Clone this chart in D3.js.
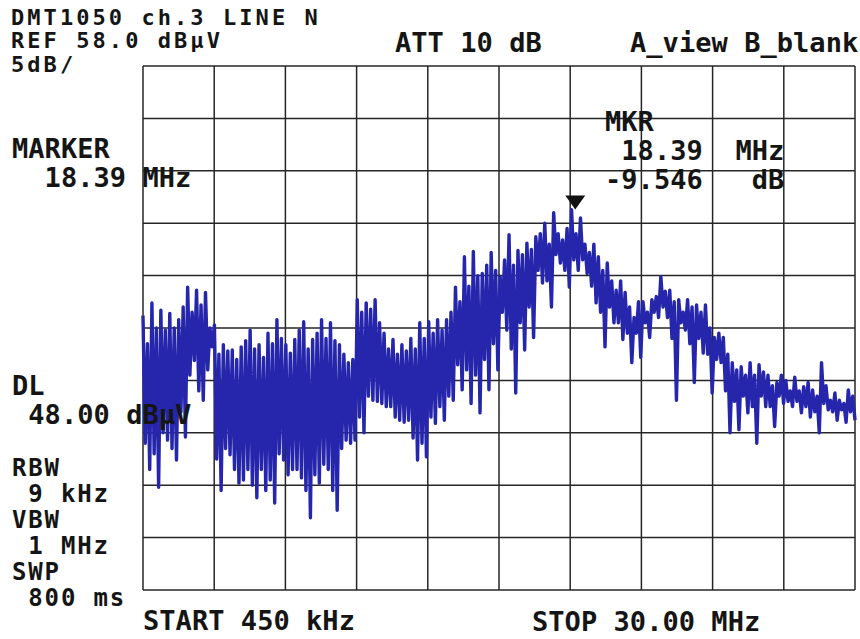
<!DOCTYPE html>
<html>
<head>
<meta charset="utf-8">
<script src="https://cdn.jsdelivr.net/npm/d3@7/dist/d3.min.js"></script>
<style>
html,body{margin:0;padding:0;background:#fff;}
svg{display:block;}
text{font-family:"DejaVu Sans Mono",monospace;font-weight:bold;fill:#151515;white-space:pre;}
</style>
</head>
<body>
<svg id="chart" width="860" height="639"></svg>
<script>
// ---- instrument settings ----
const startMHz = 0.45;
const stopMHz = 30.0;
const refLevel = 58.0;     // dBµV, top of screen
const dbPerDiv = 5;
const divisionsX = 10;
const divisionsY = 10;
const markerFreq = 18.39;  // MHz
const markerLevel = 44.3;  // dBµV (trace level at marker)

// ---- trace: per-bin levels (dBµV), read/ ----
// each bin holds: main peak, secondary dip, secondary peak, main dip
const peakLevels = [
  34.2,35.4,34.7,34.4,33.8,36.9,36.6,36.4,33.3,31.4,
  30.9,31.2,32.8,31.4,32.5,33.8,31.4,31.9,33.6,31.9,
  33.8,33.5,31.4,29.7,35.7,35.4,35.7,32.5,31.9,31.4,
  32.0,33.5,33.6,33.8,33.8,36.9,39.8,40.3,38.2,40.2,
  37.9,41.9,40.4,41.1,41.7,43.0,44.0,41.4,44.3,43.5,
  40.2,39.8,39.2,36.6,36.4,34.0,35.5,35.7,37.9,36.6,
  35.7,35.7,35.2,35.2,32.1,32.1,29.7,29.3,29.7,29.5,
  28.5,27.8,28.0,28.3,27.4,27.1,29.7,26.1,26.1,27.1
];
const dip2Levels = [
  22.0,21.0,23.0,21.5,25.0,28.5,27.0,29.0,20.5,21.5,
  19.5,18.5,18.0,19.5,18.5,21.0,19.0,19.5,17.5,19.0,
  20.0,17.5,21.5,22.0,24.5,26.5,26.0,25.5,24.5,24.0,
  22.5,22.0,24.5,25.5,26.5,29.5,29.0,28.5,30.0,31.5,
  34.5,31.0,33.5,35.0,38.5,37.5,40.0,38.5,39.5,39.5,
  37.0,34.5,35.0,33.5,32.5,32.5,33.5,34.5,35.0,32.0,
  33.5,31.5,32.0,30.5,30.0,27.0,26.0,26.5,25.5,26.5,
  25.5,26.5,26.0,26.0,25.5,25.0,25.8,25.0,25.2,25.0
];
const peak2Levels = [
  31.5,33.0,32.8,33.0,35.0,34.5,35.2,33.0,30.5,30.8,
  30.0,31.8,31.0,30.2,31.5,32.0,30.6,32.8,31.0,32.5,
  32.0,31.8,30.5,30.0,34.5,34.8,33.5,31.0,30.5,30.8,
  31.0,32.0,32.5,32.8,34.5,35.5,37.0,38.0,39.0,38.5,
  39.5,39.0,40.0,40.5,42.0,41.0,42.0,42.5,42.0,41.0,
  41.0,38.5,37.5,37.5,35.0,35.5,34.5,36.0,36.5,35.5,
  34.5,35.0,34.5,33.0,32.5,30.5,29.0,28.5,28.5,28.8,
  27.5,28.5,27.0,27.0,27.8,26.5,27.5,26.8,25.8,26.5
];
const dipLevels = [
  19.5,17.8,22.3,20.4,22.6,29.9,26.1,31.2,17.5,20.9,
  18.2,19.5,16.8,17.5,16.3,20.4,19.5,18.7,14.9,18.2,
  19.5,15.6,22.3,22.3,23.0,26.1,25.8,25.5,24.2,24.2,
  20.4,20.7,23.9,24.2,26.1,27.1,25.8,24.9,27.1,29.0,
  32.8,26.8,30.9,32.1,37.3,35.0,39.2,36.9,38.5,38.2,
  35.4,31.2,33.5,31.9,29.7,30.2,32.1,34.0,34.0,26.1,
  32.8,27.8,30.6,26.8,29.7,23.0,23.3,24.9,22.0,25.5,
  23.6,25.8,25.5,24.9,24.5,23.0,25.2,24.2,24.0,24.2
];

// ---- annotation text ----
const headerLines = ["DMT1050 ch.3 LINE N", "REF 58.0 dBµV", "5dB/"];
const attText = "ATT 10 dB";
const viewText = "A_view B_blank";
const markerLabel = ["MARKER", "  18.39 MHz"];
const mkrReadout = ["MKR", " 18.39  MHz", "-9.546   dB"];
const sideLabels = ["DL", " 48.00 dBµV", "RBW", " 9 kHz", "VBW", " 1 MHz", "SWP", " 800 ms"];
const startText = "START 450 kHz";
const stopText = "STOP 30.00 MHz";

// ---- layout ----
const plotLeft = 143, plotRight = 855, plotTop = 66, plotBottom = 590;
const charAdvance = 16.3;   // monospace pitch of the printout
const svg = d3.select("#chart");

const x = d3.scaleLinear().domain([startMHz, stopMHz]).range([plotLeft, plotRight]);
const y = d3.scaleLinear().domain([refLevel - dbPerDiv * divisionsY, refLevel]).range([plotBottom, plotTop]);

// grid
const gx = d3.range(divisionsX + 1).map(i => startMHz + i * (stopMHz - startMHz) / divisionsX);
const gy = d3.range(divisionsY + 1).map(i => refLevel - i * dbPerDiv);

const grid = svg.append("g").attr("stroke", "#262626").attr("stroke-width", 1.5).attr("fill", "none");
grid.selectAll("line.v").data(gx).join("line").attr("class", "v")
  .attr("x1", d => x(d)).attr("x2", d => x(d))
  .attr("y1", plotTop).attr("y2", plotBottom);
grid.selectAll("line.h").data(gy).join("line").attr("class", "h")
  .attr("x1", plotLeft).attr("x2", plotRight)
  .attr("y1", d => y(d)).attr("y2", d => y(d));

// trace
const perBin = 4;
const nPts = peakLevels.length * perBin;
const step = (stopMHz - startMHz) / (nPts - 1);
const trace = [];
peakLevels.forEach((p, i) => {
  const seq = [p, dip2Levels[i], peak2Levels[i], dipLevels[i]];
  seq.forEach((v, k) => trace.push({f: startMHz + (perBin * i + k) * step, v: v}));
});
const line = d3.line().x(d => x(d.f)).y(d => y(d.v));
svg.append("path").datum(trace)
  .attr("d", line)
  .attr("fill", "none")
  .attr("stroke", "#2626ac")
  .attr("stroke-width", 3.4)
  .attr("stroke-linejoin", "round");

// marker triangle
const mx = x(markerFreq), my = y(markerLevel);
svg.append("path")
  .attr("d", `M${mx},${my} L${mx - 10},${my - 14} L${mx + 10},${my - 14} Z`)
  .attr("fill", "#111");

// texts: monospace with a fixed pitch regardless of size
function textLines(lines, tx, ys, size) {
  const ls = charAdvance - 0.602 * size;
  lines.forEach((s, i) => svg.append("text")
    .attr("x", tx).attr("y", ys[i])
    .style("font-size", size + "px")
    .style("letter-spacing", ls.toFixed(2) + "px")
    .text(s));
}

textLines(headerLines, 11, [24.5, 48, 71.5], 22);
textLines([attText], 395, [52], 27);
textLines([viewText], 630, [52], 27);
textLines(markerLabel, 12, [158, 187], 27);
textLines(mkrReadout, 605, [131, 160, 189], 27);
textLines(sideLabels.slice(0, 2), 12, [395, 424], 27);
textLines(sideLabels.slice(2), 12, [476, 502, 528, 554, 580, 606], 24);
textLines([startText], 143, [630], 27);
textLines([stopText], 532, [631], 27);
</script>
</body>
</html>
